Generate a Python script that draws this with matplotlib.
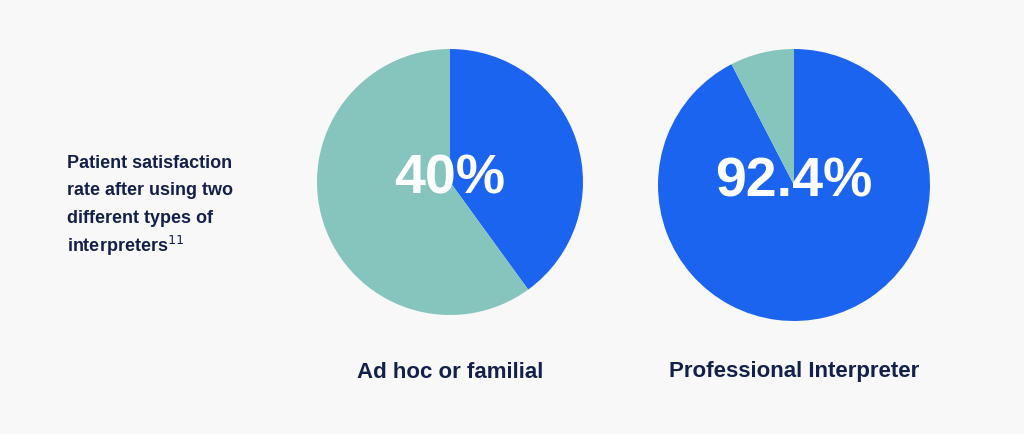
import matplotlib
matplotlib.use("Agg")
import matplotlib.pyplot as plt

categories = ["Ad hoc or familial", "Professional Interpreter"]
satisfied = [40, 92.4]
labels = ["40%", "92.4%"]
blue = "#1a64ef"
teal = "#85c5be"
bg = "#f8f8f8"
navy = "#13204a"

W, H = 1024, 434
fig = plt.figure(figsize=(W/100, H/100), dpi=100, facecolor=bg)
plt.rcParams['font.family'] = ['Liberation Sans', 'DejaVu Sans']

pies = [(450, 182, 133), (794, 185, 136)]
for (cx, cy, r), val, lab, cat in zip(pies, satisfied, labels, categories):
    ax = fig.add_axes([(cx - r)/W, 1 - (cy + r)/H, 2*r/W, 2*r/H])
    ax.pie([val, 100 - val], colors=[blue, teal], startangle=90, counterclock=False,
           radius=1, wedgeprops=dict(linewidth=0))
    ax.set_xlim(-1, 1); ax.set_ylim(-1, 1)
    ax.set_aspect('auto')
    ax.axis('off')
    ax.text(0, 0.02, lab, ha='center', va='center', color='white', fontsize=40, fontweight='bold')
    fig.text(cx/W, 1 - 372/H, cat, ha='center', va='center', color=navy, fontsize=16, fontweight='bold')

lines = ["Patient satisfaction", "rate after using two", "different types of", "interpreters$^{11}$"]
for i, l in enumerate(lines):
    fig.text(67/W, 1 - (163 + 27.5*i)/H, l, ha='left', va='center', color=navy,
             fontsize=13, fontweight='bold')

fig.savefig("out.png", dpi=100, facecolor=bg)
